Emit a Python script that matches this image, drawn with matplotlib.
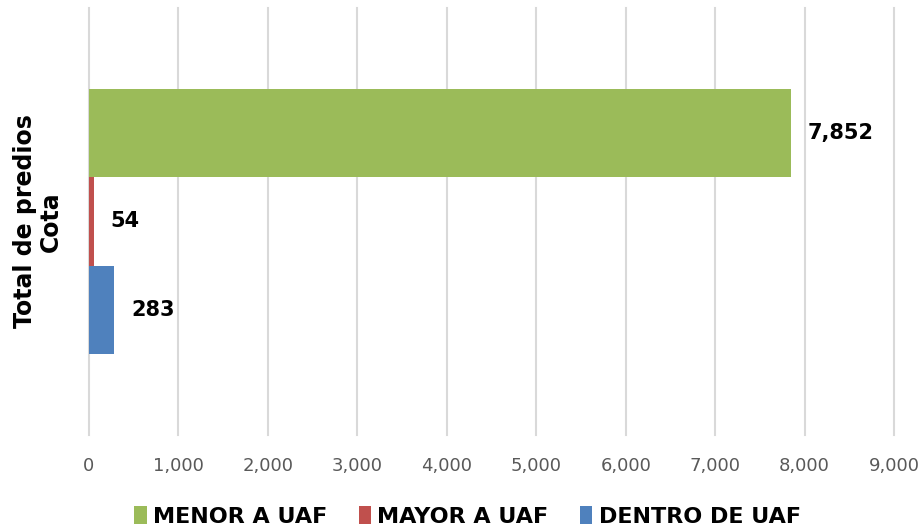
import numpy as np
import matplotlib.pyplot as plt
from matplotlib.patches import Patch

category = "Total de predios\nCota"
series = ["MENOR A UAF", "MAYOR A UAF", "DENTRO DE UAF"]
values = [7852, 54, 283]
colors = ["#9BBB59", "#C0504D", "#4F81BD"]
xticks = [0, 1000, 2000, 3000, 4000, 5000, 6000, 7000, 8000, 9000]

plt.rcParams['font.family'] = ['DejaVu Sans']

fig = plt.figure(figsize=(9.22, 5.27), dpi=100)
ax = fig.add_axes([0.0965, 0.1746, 0.8732, 0.8102])

bar_h = 0.207
offsets = [-bar_h, 0, bar_h]
for name, val, col, off in zip(series, values, colors, offsets):
    ax.barh(off, val, height=bar_h, color=col, zorder=3)
    ax.annotate(f"{val:,}", xy=(val, off), xytext=(12, 0),
                textcoords="offset points", va="center", ha="left",
                fontsize=15, fontweight="bold", color="black")

ax.set_xlim(0, 9000)
ax.set_ylim(0.5, -0.5)
ax.set_xticks(xticks)
ax.set_xticklabels([f"{t:,}" for t in xticks], fontsize=13, color="#595959")
ax.set_yticks([])
ax.tick_params(axis="x", length=0, pad=16)
ax.grid(axis="x", color="#D9D9D9", linewidth=1.5, zorder=0)
for line in ax.get_xgridlines():
    line.set_clip_on(False)
for s in ax.spines.values():
    s.set_visible(False)

fig.text(0.041, 0.58, category, rotation=90, ha="center", va="center",
         fontsize=17, fontweight="bold", linespacing=1.1)

handles = [Patch(facecolor=c, edgecolor="none") for c in colors]
fig.legend(handles, series, loc="center", bbox_to_anchor=(0.507, 0.02),
           ncol=3, frameon=False, handlelength=0.55, handleheight=0.85,
           handletextpad=0.3, columnspacing=1.4,
           prop={"size": 16, "weight": "bold"})

fig.savefig("out.png", dpi=100)
